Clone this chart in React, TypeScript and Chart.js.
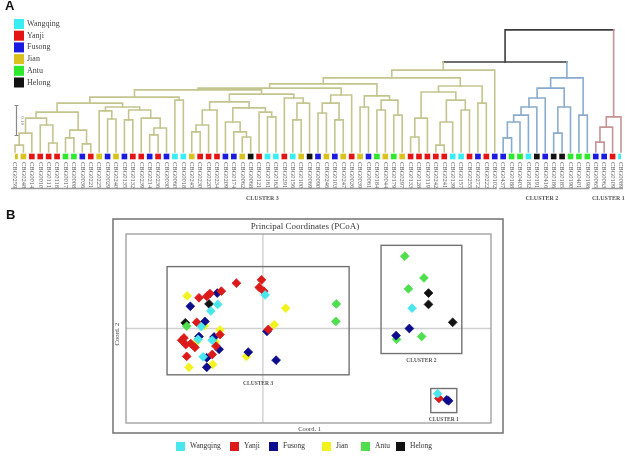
import React, { useEffect, useRef } from "react";
import { Chart, registerables } from "chart.js";

Chart.register(...registerables);

const SERIF = '"Liberation Serif", "Times New Roman", serif';
const SANS = '"Liberation Sans", Arial, sans-serif';

// Sampling sites
const sites = ["Wangqing", "Yanji", "Fusong", "Jian", "Antu", "Helong"];
const treeSiteColors = ["#38eef4", "#e51414", "#1a1ae0", "#d8c21e", "#2ee82e", "#111111"];
const pcoaSiteColors = ["#4ae6ee", "#dc1a1a", "#0c0c8c", "#f2f21e", "#4ede4e", "#111111"];

// Dendrogram leaves, left to right
const leafIds = [
  "CBG0259", "CBG0248", "CBG0014", "CBG0010", "CBG0111", "CBG0118", "CBG0017", "CBG0008", "CBG0036", "CBG0221",
  "CBG0225", "CBG0029", "CBG0240", "CBG0135", "CBG0132", "CBG0239", "CBG0214", "CBG0236", "CBG0030", "CBG0060",
  "CBG0018", "CBG0245", "CBG0230", "CBG0220", "CBG0234", "CBG0209", "CBG0174", "CBG0062", "CBG0068", "CBG0121",
  "CBG0161", "CBG0163", "CBG0291", "CBG0156", "CBG0100", "CBG0069", "CBG0090", "CBG0246", "CBG0103", "CBG0247",
  "CBG0026", "CBG0039", "CBG0061", "CBG0184", "CBG0044", "CBG0179", "CBG0297", "CBG0133", "CBG0128", "CBG0119",
  "CBG0242", "CBG0241", "CBG0139", "CBG0157", "CBG0255", "CBG0272", "CBG0222", "CBG0102", "CBG0437", "CBG0188",
  "CBG0403", "CBG0182", "CBG0191", "CBG0416", "CBG0186", "CBG0185", "CBG0190", "CBG0401", "CBG0198", "CBG0065",
  "CBG0063", "CBG0109", "CBG0089",
];
// index into sites for every leaf
const leafSite = [
  3, 3, 1, 1, 1, 1, 4, 4, 2, 1,
  3, 2, 3, 2, 1, 1, 2, 1, 2, 0,
  0, 3, 1, 1, 1, 2, 2, 3, 5, 1,
  0, 0, 1, 0, 3, 5, 2, 3, 2, 3,
  1, 3, 2, 4, 3, 4, 3, 1, 1, 1,
  1, 1, 0, 0, 1, 2, 1, 2, 2, 4,
  4, 0, 5, 2, 5, 5, 4, 4, 4, 2,
  2, 1, 0,
];

// Newick-style subtrees: numbers inside are leaf positions, the number after ")" is the join distance
const c3a = "((((0,1)0.023,2)0.063,(3,(4,5)0.030)0.090)0.113,((6,7)0.047,(8,9)0.027)0.073)0.133";
const c3b = "((10,(11,12)0.110)0.137,((13,14)0.107,(15,((16,17)0.057,18)0.080)0.113)0.140)0.150";
const c3c = "((((21,22)0.067,23)0.090,24)0.140,((25,(26,(27,28)0.050)0.067)0.100,(29,(30,31)0.117)0.133)0.147)0.167";
const c3d = "(32,((33,34)0.107,35)0.163)0.180";
const c3e = "(((36,37)0.130,(38,39)0.107)0.163,40)0.190";
const c3f = "((41,42)0.150,((43,44)0.140,(45,46)0.123)0.173)0.187";
const c3g = "(((47,48)0.050,49)0.113,(((50,51)0.023,52)0.100,(53,54)0.140)0.173)0.200";
const cluster3Tree = `(((((((${c3a},${c3b})0.163,(19,20)0.173)0.183,(${c3c},${c3d})0.193)0.207,${c3e})0.213,${c3f})0.227,(${c3g},(55,56)0.163)0.220)0.247,57)0.273`;
const cluster2Tree = "(((((((58,59)0.047,60)0.100,61)0.123,62)0.150,63)0.180,((64,65)0.063,66)0.150)0.213,(67,68)0.123)0.247";
const cluster1Tree = "(((69,70)0.033,71)0.083,72)0.117";
const upperJoins = [0.3, 0.407];
const fullTree = `((${cluster3Tree},${cluster2Tree})${upperJoins[0]},${cluster1Tree})${upperJoins[1]}`;

const clusterNames = ["CLUSTER 3", "CLUSTER 2", "CLUSTER 1"];
const clusterLeafRanges = [[0, 57], [58, 68], [69, 72]];
const clusterNameAt = [29.4, 62.6, 70.5];
const clusterLineColors = ["#c4c58e", "#8aaccc", "#c69494"];
const rootLineColor = "#3e3e3e";
const scaleBarLength = 0.1;

// PCoA coordinates (Coord. 1, Coord. 2) per site
const wangqingPts = [[0.005, 0.071], [-0.099, 0.051], [-0.114, 0.037], [-0.135, 0.004], [-0.142, -0.023], [-0.111, -0.025], [-0.131, -0.06], [0.327, 0.043], [0.383, -0.138]];
const yanjiPts = [[-0.058, 0.096], [-0.003, 0.103], [-0.008, 0.087], [0.002, 0.079], [-0.14, 0.065], [-0.123, 0.068], [-0.116, 0.074], [-0.091, 0.079], [-0.145, 0.013], [0.012, -0.002], [-0.094, -0.013], [-0.173, -0.02], [-0.178, -0.025], [-0.169, -0.034], [-0.158, -0.032], [-0.149, -0.04], [-0.103, -0.037], [-0.167, -0.059], [-0.111, -0.055], [0.386, -0.148]];
const fusongPts = [[-0.1, 0.075], [-0.159, 0.047], [-0.127, 0.015], [0.009, -0.006], [-0.14, -0.017], [-0.107, -0.018], [-0.096, -0.044], [-0.032, -0.05], [-0.123, -0.062], [0.029, -0.067], [-0.123, -0.082], [0.321, 0.0], [0.292, -0.015], [0.403, -0.151], [0.407, -0.153]];
const jianPts = [[-0.166, 0.069], [0.05, 0.043], [0.025, 0.008], [-0.094, -0.003], [-0.146, -0.029], [-0.104, -0.028], [-0.036, -0.059], [-0.162, -0.082], [-0.11, -0.076], [-0.128, 0.006]];
const antuPts = [[0.161, 0.052], [0.16, 0.015], [-0.167, 0.005], [0.311, 0.153], [0.353, 0.107], [0.319, 0.084], [0.293, -0.023], [0.348, -0.017]];
const helongPts = [[-0.118, 0.052], [-0.17, 0.012], [0.363, 0.075], [0.363, 0.051], [0.416, 0.013]];
const pcoaBySite = [wangqingPts, yanjiPts, fusongPts, jianPts, antuPts, helongPts];

// [xMin, xMax, yMin, yMax] of the cluster outlines
const clusterBoxes = [[-0.21, 0.189, -0.098, 0.131], [0.259, 0.436, -0.053, 0.176], [0.368, 0.425, -0.178, -0.127]];
const pcoaTitle = "Principal Coordinates (PCoA)";
const axisTitles = ["Coord. 1", "Coord. 2"];

type TreeNode = { kids: TreeNode[]; h: number; x: number; lo: number; hi: number };

function parseTree(src: string): TreeNode {
  const s = src.replace(/\s+/g, "");
  let i = 0;
  const readNum = () => {
    const m = /^[0-9.]+/.exec(s.slice(i));
    if (!m) throw new Error("tree syntax at " + i);
    i += m[0].length;
    return parseFloat(m[0]);
  };
  const readNode = (): TreeNode => {
    if (s[i] === "(") {
      i++;
      const kids = [readNode()];
      while (s[i] === ",") {
        i++;
        kids.push(readNode());
      }
      i++;
      const h = readNum();
      return {
        kids,
        h,
        x: (kids[0].x + kids[kids.length - 1].x) / 2,
        lo: Math.min(...kids.map((k) => k.lo)),
        hi: Math.max(...kids.map((k) => k.hi)),
      };
    }
    const leaf = readNum();
    return { kids: [], h: 0, x: leaf, lo: leaf, hi: leaf };
  };
  return readNode();
}

function branchColor(n: TreeNode) {
  const k = clusterLeafRanges.findIndex(([a, b]) => n.lo >= a && n.hi <= b);
  return k < 0 ? rootLineColor : clusterLineColors[k];
}

function treeSegments(root: TreeNode) {
  const out: { color: string; pts: { x: number; y: number }[] }[] = [];
  const walk = (n: TreeNode) => {
    if (!n.kids.length) return;
    const c = branchColor(n);
    const [l, r] = n.kids;
    const cl = branchColor(l);
    const cr = branchColor(r);
    const poly: { x: number; y: number }[] = [];
    if (cl === c) poly.push({ x: l.x, y: l.h });
    else out.push({ color: cl, pts: [{ x: l.x, y: l.h }, { x: l.x, y: n.h }] });
    poly.push({ x: l.x, y: n.h }, { x: r.x, y: n.h });
    if (cr === c) poly.push({ x: r.x, y: r.h });
    else out.push({ color: cr, pts: [{ x: r.x, y: r.h }, { x: r.x, y: n.h }] });
    out.push({ color: c, pts: poly });
    n.kids.forEach(walk);
  };
  walk(root);
  return out;
}

const dendroDecor = {
  id: "dendroDecor",
  afterDraw(chart: any) {
    const { ctx } = chart;
    const xs = chart.scales.x;
    const ys = chart.scales.y;
    ctx.save();

    ctx.fillStyle = "#111";
    ctx.font = `bold 13px ${SANS}`;
    ctx.textAlign = "left";
    ctx.textBaseline = "alphabetic";
    ctx.fillText("A", 5, 10);

    // site key
    ctx.font = `8px ${SERIF}`;
    ctx.textBaseline = "middle";
    sites.forEach((s, k) => {
      const y = 19 + k * 11.7;
      ctx.fillStyle = treeSiteColors[k];
      ctx.fillRect(14, y, 10, 10);
      ctx.fillStyle = "#444";
      ctx.fillText(s, 27, y + 5);
    });

    // distance scale bar
    const bx = 16.5;
    const yb = ys.getPixelForValue(0.055);
    const yt = ys.getPixelForValue(0.055 + scaleBarLength);
    ctx.strokeStyle = "#888";
    ctx.lineWidth = 1.2;
    ctx.beginPath();
    ctx.moveTo(bx, yb);
    ctx.lineTo(bx, yt);
    ctx.moveTo(bx - 2, yb);
    ctx.lineTo(bx + 2, yb);
    ctx.moveTo(bx - 2, yt);
    ctx.lineTo(bx + 2, yt);
    ctx.stroke();
    ctx.save();
    ctx.translate(bx + 6, (yb + yt) / 2);
    ctx.rotate(Math.PI / 2);
    ctx.fillStyle = "#777";
    ctx.font = `5px ${SERIF}`;
    ctx.textAlign = "center";
    ctx.fillText(scaleBarLength.toFixed(2), 0, 0);
    ctx.restore();

    // leaf names
    ctx.fillStyle = "#555";
    ctx.font = `6.5px ${SERIF}`;
    ctx.textAlign = "left";
    ctx.textBaseline = "middle";
    leafIds.forEach((id, i) => {
      ctx.save();
      ctx.translate(xs.getPixelForValue(i), 162);
      ctx.rotate(Math.PI / 2);
      ctx.fillText(id, 0, 0);
      ctx.restore();
    });

    // cluster brackets and names
    ctx.strokeStyle = "#9a9a9a";
    ctx.lineWidth = 1.5;
    clusterLeafRanges.forEach(([a, b], k) => {
      ctx.beginPath();
      ctx.moveTo(xs.getPixelForValue(a) - 4, 188.5);
      ctx.lineTo(xs.getPixelForValue(b) + 2, 188.5);
      ctx.stroke();
      ctx.fillStyle = "#555";
      ctx.font = `bold 6px ${SERIF}`;
      ctx.textAlign = "center";
      ctx.fillText(clusterNames[k], xs.getPixelForValue(clusterNameAt[k]), 198);
    });
    ctx.restore();
  },
};

function Dendrogram() {
  const ref = useRef<HTMLCanvasElement>(null);
  useEffect(() => {
    const root = parseTree(fullTree);
    const datasets: any[] = treeSegments(root).map((sg) => ({
      data: sg.pts,
      showLine: true,
      borderColor: sg.color,
      borderWidth: 1.6,
      borderCapStyle: "square",
      borderJoinStyle: "miter",
      pointRadius: 0,
      clip: false,
    }));
    datasets.unshift({
      data: leafIds.map((_, i) => ({ x: i, y: -0.015 })),
      showLine: false,
      pointStyle: "rect",
      pointRadius: 4,
      backgroundColor: leafSite.map((k) => treeSiteColors[k]),
      borderWidth: 0,
    });
    const chart = new Chart(ref.current!, {
      type: "scatter",
      data: { datasets },
      options: {
        responsive: false,
        animation: false,
        devicePixelRatio: 1,
        events: [],
        layout: { padding: { left: 15, right: 3, top: 29, bottom: 44 } },
        plugins: { legend: { display: false }, tooltip: { enabled: false } },
        scales: {
          x: { type: "linear", min: 0, max: leafIds.length - 1, display: false },
          y: { type: "linear", min: -0.03, max: 0.41, display: false },
        },
      },
      plugins: [dendroDecor],
    } as any);
    return () => chart.destroy();
  }, []);
  return <canvas ref={ref} width={625} height={205} style={{ position: "absolute", left: 0, top: 0 }} />;
}

const pcoaDecor = {
  id: "pcoaDecor",
  beforeDatasetsDraw(chart: any) {
    const { ctx, chartArea: ca } = chart;
    const xs = chart.scales.x;
    const ys = chart.scales.y;
    ctx.save();
    // outer frame
    ctx.strokeStyle = "#7a7a7a";
    ctx.lineWidth = 1.6;
    ctx.strokeRect(113, 14, 390, 214);
    // origin lines
    ctx.strokeStyle = "#d0d0d0";
    ctx.lineWidth = 1.4;
    ctx.beginPath();
    const x0 = xs.getPixelForValue(0);
    const y0 = ys.getPixelForValue(0);
    ctx.moveTo(x0, ca.top);
    ctx.lineTo(x0, ca.bottom);
    ctx.moveTo(ca.left, y0);
    ctx.lineTo(ca.right, y0);
    ctx.stroke();
    // plot border
    ctx.strokeStyle = "#9c9c9c";
    ctx.lineWidth = 1.3;
    ctx.strokeRect(ca.left, ca.top, ca.right - ca.left, ca.bottom - ca.top);
    // cluster outlines
    ctx.strokeStyle = "#727272";
    ctx.lineWidth = 1.4;
    clusterBoxes.forEach(([a, b, c, d]) => {
      const l = xs.getPixelForValue(a);
      const r = xs.getPixelForValue(b);
      const t = ys.getPixelForValue(d);
      const btm = ys.getPixelForValue(c);
      ctx.strokeRect(l, t, r - l, btm - t);
    });
    ctx.restore();
  },
  afterDraw(chart: any) {
    const { ctx, chartArea: ca } = chart;
    const xs = chart.scales.x;
    const ys = chart.scales.y;
    ctx.save();
    ctx.fillStyle = "#111";
    ctx.font = `bold 13px ${SANS}`;
    ctx.textAlign = "left";
    ctx.textBaseline = "alphabetic";
    ctx.fillText("B", 6, 14);

    ctx.fillStyle = "#3a3a3a";
    ctx.font = `9px ${SERIF}`;
    ctx.textAlign = "center";
    ctx.textBaseline = "middle";
    ctx.fillText(pcoaTitle, 305, 22);

    ctx.font = `6.5px ${SERIF}`;
    ctx.fillText(axisTitles[0], 309.5, 224.5);
    ctx.save();
    ctx.translate(117.5, 129);
    ctx.rotate(-Math.PI / 2);
    ctx.fillText(axisTitles[1], 0, 0);
    ctx.restore();

    ctx.fillStyle = "#555";
    ctx.font = `bold 5.5px ${SERIF}`;
    clusterBoxes.forEach(([a, b, c], k) => {
      const cx = (xs.getPixelForValue(a) + xs.getPixelForValue(b)) / 2;
      ctx.fillText(clusterNames[k], cx, ys.getPixelForValue(c) + 7 - (k === 0 ? -2 : 0));
    });

    // site key
    const keyX = [176, 230, 269, 322, 361, 396];
    ctx.textAlign = "left";
    ctx.font = `7.5px ${SERIF}`;
    sites.forEach((s, k) => {
      ctx.fillStyle = pcoaSiteColors[k];
      ctx.fillRect(keyX[k], 237, 9, 9);
      ctx.fillStyle = "#333";
      ctx.fillText(s, keyX[k] + 14, 241.5);
    });
    ctx.restore();
  },
};

function Pcoa() {
  const ref = useRef<HTMLCanvasElement>(null);
  useEffect(() => {
    const chart = new Chart(ref.current!, {
      type: "scatter",
      data: {
        datasets: sites.map((s, k) => ({
          label: s,
          data: pcoaBySite[k].map(([x, y]) => ({ x, y })),
          pointStyle: "rectRot",
          pointRadius: 4.4,
          backgroundColor: pcoaSiteColors[k],
          borderColor: pcoaSiteColors[k],
          borderWidth: 0.8,
        })),
      },
      options: {
        responsive: false,
        animation: false,
        devicePixelRatio: 1,
        events: [],
        layout: { padding: { left: 126, right: 134, top: 29, bottom: 33 } },
        plugins: { legend: { display: false }, tooltip: { enabled: false } },
        scales: {
          x: { type: "linear", min: -0.3, max: 0.5, display: false },
          y: { type: "linear", min: -0.2, max: 0.2, display: false },
        },
      },
      plugins: [pcoaDecor],
    } as any);
    return () => chart.destroy();
  }, []);
  return <canvas ref={ref} width={625} height={251} style={{ position: "absolute", left: 0, top: 205 }} />;
}

export default function App() {
  return (
    <div style={{ position: "absolute", left: 0, top: 0, width: 625, height: 456, background: "#fff", overflow: "hidden" }}>
      <Dendrogram />
      <Pcoa />
    </div>
  );
}
